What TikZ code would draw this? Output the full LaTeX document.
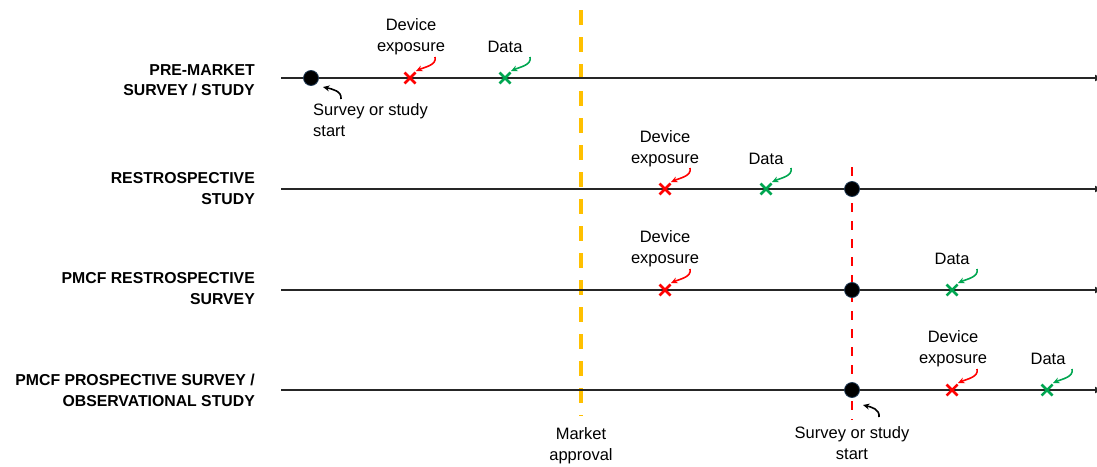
\documentclass[tikz,border=0pt]{standalone}
\usepackage{fontspec}
\setmainfont{Liberation Sans}
\usetikzlibrary{arrows.meta,shapes.misc}
\definecolor{myyellow}{HTML}{FFC000}
\definecolor{myred}{HTML}{FF0000}
\definecolor{mygreen}{HTML}{00A650}
\definecolor{dotedge}{HTML}{1F3A55}
\newcommand\curlto[2]{\draw[curl=#1] ([shift={(25,-21)}]#2.center) .. controls ([shift={(27,-13)}]#2.center) and ([shift={(15,-11)}]#2.center) .. ([shift={(6,-7)}]#2.center);}
\begin{document}
\begin{tikzpicture}[x=1pt,y=-1pt,
 lbl/.style={font=\fontsize{15.8}{20.5}\selectfont\bfseries, align=right, anchor=east, inner sep=0},
 txt/.style={font=\fontsize{16.5}{21}\selectfont, align=center, inner sep=0},
 tl/.style={line width=1.5pt, draw=black!85, -{Latex[length=8pt,width=7pt]}},
 dot/.style={circle, fill=black, draw=dotedge, line width=0.8pt, minimum size=15pt, inner sep=0},
 xmark/.style={cross out, draw=#1, line width=2.5pt, minimum size=8.5pt, inner sep=0},
 curl/.style={draw=#1, line width=1.6pt, -{Stealth[length=6.5pt,width=6pt]}},
]
\useasboundingbox (0,0) rectangle (1097,466);

% vertical lines
\coordinate (ytop) at (581,10);
\coordinate (ybot) at (581,416);
\draw[myyellow, line width=4pt, dash pattern=on 15pt off 12pt] (ytop) -- (ybot);
\coordinate (rtop) at (852,167);
\coordinate (rbot) at (852,420);
\draw[myred, line width=2pt, dash pattern=on 9pt off 9pt] (rtop) -- (rbot);

% row labels
\node[lbl] (l1) at (255,80) {PRE-MARKET\\SURVEY / STUDY};
\node[lbl] (l2) at (255,188.5) {RESTROSPECTIVE\\STUDY};
\node[lbl] (l3) at (255,288.5) {PMCF RESTROSPECTIVE\\SURVEY};
\node[lbl] (l4) at (255,390.5) {PMCF PROSPECTIVE SURVEY /\\OBSERVATIONAL STUDY};

% timelines
\foreach \i/\y in {1/78,2/189,3/290,4/390}{
  \coordinate (s\i) at (281,\y);
  \coordinate (e\i) at (1103,\y);
  \draw[tl] (s\i) -- (e\i);
}

% row 1
\node[dot] (d1) at (311,78) {};
\node[xmark=myred] (x1) at (410,78) {};
\node[xmark=mygreen] (g1) at (505,78) {};
\node[txt] (tx1) at (411,36.5) {Device\\exposure};
\node[txt] (tg1) at (505,47) {Data};
\node[txt, align=left, anchor=north west] (ts1) at (313,103) {Survey or study\\start};
\curlto{myred}{x1}
\curlto{mygreen}{g1}
\draw[curl=black] ([shift={(30,21)}]d1.center) .. controls ([shift={(31,13)}]d1.center) and ([shift={(21,11)}]d1.center) .. ([shift={(12,9)}]d1.center);

% row 2
\node[dot] (d2) at (852,189) {};
\node[xmark=myred] (x2) at (665,189) {};
\node[xmark=mygreen] (g2) at (766,189) {};
\node[txt] (tx2) at (665,148.5) {Device\\exposure};
\node[txt] (tg2) at (766,159) {Data};
\curlto{myred}{x2}
\curlto{mygreen}{g2}

% row 3
\node[dot] (d3) at (852,290) {};
\node[xmark=myred] (x3) at (665,290) {};
\node[xmark=mygreen] (g3) at (952,290) {};
\node[txt] (tx3) at (665,248.5) {Device\\exposure};
\node[txt] (tg3) at (952,259) {Data};
\curlto{myred}{x3}
\curlto{mygreen}{g3}

% row 4
\node[dot] (d4) at (852,390) {};
\node[xmark=myred] (x4) at (952,390) {};
\node[xmark=mygreen] (g4) at (1047,390) {};
\node[txt] (tx4) at (953,348.5) {Device\\exposure};
\node[txt] (tg4) at (1048,359) {Data};
\node[txt] (ts4) at (852,443) {Survey or study\\start};
\curlto{myred}{x4}
\curlto{mygreen}{g4}
\draw[curl=black] ([shift={(27,27)}]d4.center) .. controls ([shift={(28,19)}]d4.center) and ([shift={(19,17)}]d4.center) .. ([shift={(11,15)}]d4.center);

% market approval
\node[txt] (ma) at (581,446) {Market\\approval};
\end{tikzpicture}
\end{document}
